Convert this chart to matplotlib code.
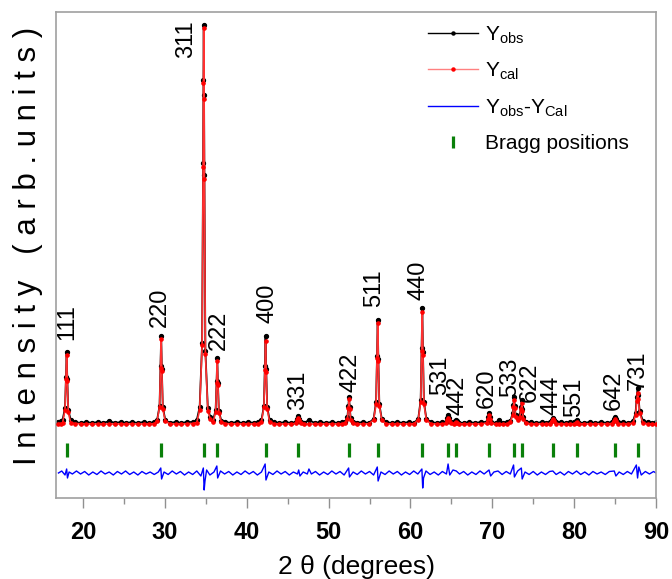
import matplotlib
matplotlib.use('Agg')
import matplotlib.pyplot as plt
from matplotlib.lines import Line2D
from matplotlib.ticker import MultipleLocator

plt.rcParams['font.family'] = ['Liberation Sans', 'DejaVu Sans']
plt.rcParams['mathtext.fontset'] = 'custom'
plt.rcParams['mathtext.rm'] = 'Liberation Sans'

tth = [17.0, 17.25,
       17.5, 17.8, 17.92, 18.0, 18.08, 18.2, 18.5,
       19.0, 19.7, 20.4, 21.1, 21.8, 22.5, 23.2, 23.9, 24.6, 25.3, 26.0, 26.7, 27.4, 28.1, 28.7,
       29.05, 29.35, 29.47, 29.55, 29.63, 29.75, 30.05,
       30.6, 31.3, 32.0, 32.7, 33.4, 33.9,
       34.25, 34.55, 34.67, 34.71, 34.75, 34.79, 34.83, 34.95, 35.25,
       35.55,
       35.9, 36.2, 36.32, 36.4, 36.48, 36.6, 36.9,
       37.4, 38.1, 38.8, 39.5, 40.2, 40.9, 41.4,
       41.8, 42.1, 42.22, 42.3, 42.38, 42.5, 42.8,
       43.3, 44.0, 44.7, 45.4,
       46.0, 46.2, 46.3, 46.4, 46.6,
       47.0, 47.6, 48.3, 49.0, 49.7, 50.4, 51.1, 51.6,
       52.0, 52.3, 52.42, 52.5, 52.58, 52.7, 53.0,
       53.5, 54.2, 54.9,
       55.5, 55.8, 55.92, 56.0, 56.08, 56.2, 56.5,
       57.0, 57.7, 58.4, 59.1, 59.8, 60.4,
       60.95, 61.25, 61.37, 61.45, 61.53, 61.65, 61.95,
       62.5, 63.2, 63.8,
       64.3, 64.5, 64.6, 64.7, 64.9,
       65.3, 65.5, 65.6, 65.7, 65.9,
       66.5, 67.2, 67.9, 68.6,
       69.3, 69.5, 69.6, 69.7, 69.9,
       70.4, 70.8, 71.3, 71.8,
       72.2, 72.5, 72.58, 72.65, 72.73, 72.85, 73.1, 73.35, 73.52, 73.6, 73.68, 73.8, 74.1,
       74.7, 75.4, 76.1, 76.6,
       77.0, 77.25, 77.4, 77.55, 77.8,
       78.4, 79.0, 79.5,
       80.0, 80.2, 80.3, 80.4, 80.6,
       81.2, 81.9, 82.6, 83.3, 84.0,
       84.6, 84.85, 85.0, 85.15, 85.4,
       86.0, 86.6,
       87.2, 87.5, 87.65, 87.75, 87.85, 88.0, 88.4,
       89.0, 89.5, 90.0]

y_obs = [3, 4,
         5, 17, 48, 73, 46, 15, 5,
         3, 2, 3, 2, 3, 2, 4, 2, 3, 2, 3, 2, 3, 2, 3,
         5, 19, 59, 89, 56, 18, 5,
         2, 3, 2, 3, 3, 5,
         18, 82, 262, 345, 400, 330, 250, 74, 17,
         8,
         5, 15, 44, 67, 42, 14, 4,
         3, 2, 3, 2, 3, 2, 3,
         5, 19, 59, 89, 56, 18, 5,
         3, 2, 3, 2,
         3, 6, 9, 6, 3,
         2, 5, 2, 3, 2, 3, 2, 3,
         3, 8, 19, 28, 18, 7, 3,
         2, 3, 2,
         6, 23, 69, 105, 66, 21, 6,
         3, 2, 3, 2, 3, 2,
         6, 25, 77, 117, 73, 23, 6,
         3, 2, 3,
         3, 7, 10, 7, 3,
         2, 4, 5, 4, 2,
         2, 3, 2, 3,
         3, 8, 12, 8, 3,
         2, 5, 2, 3,
         4, 12, 20, 28, 19, 10, 7, 10, 18, 25, 16, 8, 3,
         3, 2, 3, 2,
         3, 5, 7, 5, 3,
         3, 2, 3,
         3, 4, 5, 4, 2,
         2, 3, 2, 3, 2,
         3, 6, 8, 6, 3,
         3, 2,
         4, 12, 28, 37, 30, 14, 4,
         3, 2, 3]

y_cal = [1.5, 1.5,
         2, 15, 46, 70, 44, 13, 2,
         1.5, 1.2, 1, 1, 1, 1, 1, 1, 1, 1, 1, 1, 1, 1, 1.2,
         4, 18, 57, 86, 54, 16, 4,
         1.2, 1, 1, 1.2, 1.5, 2.5,
         15, 80, 258, 342, 397, 326, 246, 71, 14,
         6,
         3, 13, 42, 64, 40, 12, 3,
         1.5, 1, 1, 1, 1, 1, 1.5,
         3, 18, 55, 84, 53, 16, 3,
         1.2, 1, 1, 1,
         1.6, 4.6, 7, 4.6, 1.6,
         1, 1, 1, 1, 1, 1, 1, 1,
         2, 6, 17, 26, 16, 5, 2,
         1, 1, 1.2,
         5, 21, 67, 102, 64, 19, 5,
         1.2, 1, 1, 1, 1, 1.2,
         5, 23, 74, 113, 70, 21, 5,
         1.2, 1, 1,
         1.6, 4.6, 7, 4.6, 1.6,
         1.2, 2.4, 3, 2.4, 1.2,
         1, 1, 1, 1,
         2, 6.5, 10, 6.5, 2,
         1, 1, 1, 1.2,
         3, 10, 18, 25, 17, 8, 5, 8, 16, 22, 14, 6, 2,
         1, 1, 1, 1,
         1.5, 4, 6, 4, 1.5,
         1, 1, 1,
         1.2, 2.4, 3, 2.4, 1.2,
         1, 1, 1, 1, 1,
         1.5, 4, 6, 4, 1.5,
         1, 1,
         2, 10, 24, 32, 26, 12, 2,
         1, 1, 1]

# difference curve
tth_diff = [17.0, 17.4, 17.8, 18.0, 18.1, 18.3, 18.7, 19.2, 19.7, 20.2, 20.7, 21.2, 21.7, 22.2,
            22.7, 23.2, 23.7, 24.2, 24.7, 25.2, 25.7, 26.2, 26.7, 27.2, 27.7, 28.2, 28.7, 29.2,
            29.5, 29.6, 29.9, 30.4, 30.9, 31.4, 31.9, 32.4, 32.9, 33.4, 33.9, 34.4, 34.7, 34.8,
            34.9, 35.1, 35.5, 36.0, 36.35, 36.45, 36.8, 37.3, 37.8, 38.3, 38.8, 39.3, 39.8, 40.3,
            40.8, 41.3, 41.8, 42.25, 42.35, 42.7, 43.2, 43.7, 44.2, 44.7, 45.2, 45.7, 46.2, 46.35,
            46.5, 46.9, 47.4, 47.6, 47.9, 48.4, 48.9, 49.4, 49.9, 50.4, 50.9, 51.4, 51.9, 52.45,
            52.55, 53.0, 53.5, 54.0, 54.5, 55.0, 55.5, 55.95, 56.05, 56.4, 56.9, 57.4, 57.9, 58.4,
            58.9, 59.4, 59.9, 60.4, 60.9, 61.4, 61.5, 61.6, 61.9, 62.4, 62.9, 63.4, 63.9, 64.4,
            64.6, 64.8, 65.2, 65.6, 66.0, 66.5, 67.0, 67.5, 68.0, 68.5, 69.0, 69.6, 69.8, 70.2,
            70.7, 71.2, 71.7, 72.2, 72.6, 72.7, 73.1, 73.55, 73.65, 74.0, 74.5, 75.0, 75.5, 76.0,
            76.5, 77.0, 77.4, 77.8, 78.3, 78.8, 79.3, 79.8, 80.3, 80.8, 81.3, 81.8, 82.3, 82.8,
            83.3, 83.8, 84.3, 84.9, 85.1, 85.5, 86.0, 86.5, 87.0, 87.6, 87.75, 87.9, 88.2, 88.7,
            89.2, 89.7, 90.0]
y_diff = [0, 2, -2, 4, -5, 1, -1, 2, -1, 1.5, -2, 1, -1.5, 2,
          -1, 1, -2, 1.5, -1, 2, -1.5, 1, -2, 1.5, -1, 1, -1.5, 1,
          5, -6, 1, -1.5, 2, -1, 1.5, -2, 1, -1.5, 2, -3, 5, -17,
          -8, 3, -2, 1, 7, -5, 2, -1, 1.5, -2, 1, -1.5, 2, -1,
          1.5, -2, 1, 9, -7, 1, -1.5, 2, -1, 1.5, -2, 1, -1, 3,
          -3, 1, -1, 4, -1, 1.5, -2, 1, -1.5, 2, -1, 1.5, -2, 5,
          -4, 1, -1.5, 2, -1, 1.5, -2, 6, -8, 1, -1.5, 2, -1, 1.5,
          -2, 1, -1.5, 2, -1, 4, -15, -5, 2, -1.5, 1, -2, 1.5, -1,
          9, -2, 3, 2, -1, 1.5, -2, 1, -1.5, 2, -1, 3, -3, 1,
          2, -1.5, 1.5, -1, 8, -4, 2, 5, -6, 1, -1.5, 1.5, -2, 1,
          -1.5, 1.5, 2, -1.5, 1, -2, 1.5, -1, 2, -1.5, 1, -2, 1.5, -1,
          1, -1.5, 1.5, 2, -3, 1, -1.5, 1.5, -1, 8, -5, 6, -2, 1.5,
          -1, 1.5, 0]

bragg = [18.0, 29.55, 34.75, 36.4, 42.3, 46.3, 52.5, 56.0, 61.45, 64.6, 65.6,
         69.6, 72.65, 73.6, 77.4, 80.3, 85.0, 87.75]
hkl = ['111', '220', '311', '222', '400', '331', '422', '511', '440', '531', '442',
       '620', '533', '622', '444', '551', '642', '731']

fig = plt.figure(figsize=(6.72, 5.79), dpi=100)
ax = fig.add_axes([56 / 672, 81 / 579, 600 / 672, 486 / 579])

ax.plot(tth, y_obs, color='black', lw=1.3, marker='o', ms=2.8, zorder=2)
ax.plot(tth, y_cal, color='#ff3030', lw=1.2, marker='o', ms=2.3, mfc='red', mec='red', zorder=3)
ax.plot(tth_diff, [v - 48 for v in y_diff], color='#0000ff', lw=1.0, zorder=2)
ax.plot(bragg, [-24.5] * len(bragg), ls='none', marker='|', ms=9.5, mew=2.3,
        color='#0a800a', zorder=2)

# hkl labels: (x, bottom of text)
label_pos = [(18.05, 85), (29.4, 98), (32.6, 367), (36.6, 75), (42.5, 102), (46.3, 15),
             (52.7, 33), (55.6, 118), (61.0, 125), (63.6, 30), (65.8, 10), (69.3, 17),
             (72.2, 28), (74.6, 23), (77.2, 10), (80.0, 8), (84.8, 15), (87.8, 35)]
for lab, (lx, ly) in zip(hkl, label_pos):
    ax.text(lx, ly, lab, rotation=90, ha='center', va='bottom', fontsize=17)

ax.set_xlim(16.7, 90)
ax.set_ylim(-73, 413)
ax.set_yticks([])
ax.xaxis.set_major_locator(MultipleLocator(10))
ax.xaxis.set_minor_locator(MultipleLocator(5))
ax.tick_params(axis='x', which='major', direction='out', length=7, width=1,
               color='#909090', pad=9.5, labelsize=17)
ax.tick_params(axis='x', which='minor', direction='out', length=4, width=1, color='#909090')
for t in ax.get_xticklabels():
    t.set_fontweight('bold')
for s in ax.spines.values():
    s.set_color('#a0a0a0')
    s.set_linewidth(1.2)

ax.set_xlabel('2 \u03b8 (degrees)', fontsize=19, labelpad=8)
fig.text(28 / 672, 1 - 246 / 579, 'I n t e n s i t y   ( a r b . u n i t s )',
         rotation=90, ha='center', va='center', fontsize=22.5)

handles = [
    Line2D([], [], color='black', lw=1, marker='o', ms=2.2),
    Line2D([], [], color='#ff8080', lw=1, marker='o', ms=2.2, mfc='red', mec='red'),
    Line2D([], [], color='#0000ff', lw=1),
    Line2D([], [], color='#0a800a', ls='none', marker='|', ms=9, mew=2.3),
]
labels = ['Y$_{\\mathrm{obs}}$', 'Y$_{\\mathrm{cal}}$',
          'Y$_{\\mathrm{obs}}$-Y$_{\\mathrm{Cal}}$', 'Bragg positions']
ax.legend(handles, labels, loc='upper left', bbox_to_anchor=(428 / 672, 1 - 24 / 579),
          bbox_transform=fig.transFigure, frameon=False, fontsize=15, borderpad=0,
          handlelength=2.4, handletextpad=0.35, labelspacing=0.72, borderaxespad=0)

fig.savefig('out.png', dpi=100)
